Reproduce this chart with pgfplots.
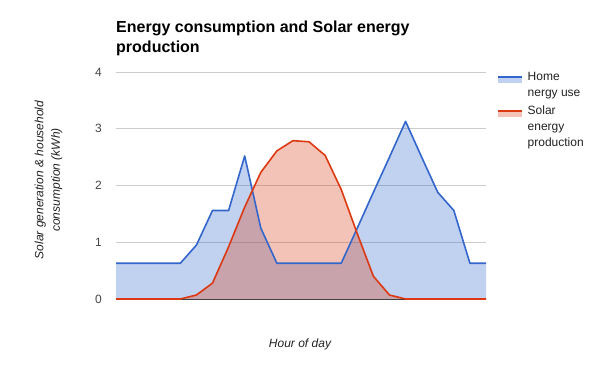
\documentclass[border=0pt]{standalone}
\usepackage{fontspec}
\setmainfont{Liberation Sans}
\usepackage{pgfplots}
\pgfplotsset{compat=1.18}
\definecolor{cblue}{HTML}{3366CC}
\definecolor{cred}{HTML}{DC3912}
\definecolor{ctxt}{HTML}{222222}
\definecolor{clab}{HTML}{444444}
\begin{document}
\begin{tikzpicture}
\useasboundingbox (0pt,0pt) rectangle (600pt,371pt);
\begin{axis}[at={(116pt,72pt)}, anchor=south west, scale only axis,
  width=370pt, height=227pt,
  xmin=0, xmax=23, ymin=0, ymax=4,
  ytick={1,2,3,4}, xtick=\empty,
  extra y ticks={0}, extra y tick style={grid style={color=black!75, line width=0.8pt}},
  axis line style={draw=none}, major tick length=0pt,
  ymajorgrids, grid style={color=black!20, line width=0.8pt},
  tick label style={font=\fontsize{12}{14}\selectfont, text=clab},
  yticklabel style={anchor=east, inner sep=0pt, xshift=-14pt},
  /pgf/number format/assume math mode=true,
  clip=false]
\addplot[draw=none, fill=cblue, fill opacity=0.3] coordinates {
(0,0.63)(1,0.63)(2,0.63)(3,0.63)(4,0.63)(5,0.95)(6,1.56)(7,1.56)(8,2.52)(9,1.25)(10,0.63)(11,0.63)
(12,0.63)(13,0.63)(14,0.63)(15,1.25)(16,1.88)(17,2.5)(18,3.13)(19,2.5)(20,1.88)(21,1.56)(22,0.63)(23,0.63)} \closedcycle;
\addplot[draw=none, fill=cred, fill opacity=0.3] coordinates {
(0,0)(1,0)(2,0)(3,0)(4,0)(5,0.07)(6,0.28)(7,0.92)(8,1.62)(9,2.23)(10,2.61)(11,2.79)
(12,2.77)(13,2.53)(14,1.93)(15,1.15)(16,0.40)(17,0.07)(18,0)(19,0)(20,0)(21,0)(22,0)(23,0)} \closedcycle;
\addplot[cblue, line width=1.6pt, line join=round] coordinates {
(0,0.63)(1,0.63)(2,0.63)(3,0.63)(4,0.63)(5,0.95)(6,1.56)(7,1.56)(8,2.52)(9,1.25)(10,0.63)(11,0.63)
(12,0.63)(13,0.63)(14,0.63)(15,1.25)(16,1.88)(17,2.5)(18,3.13)(19,2.5)(20,1.88)(21,1.56)(22,0.63)(23,0.63)};
\addplot[cred, line width=1.6pt, line join=round] coordinates {
(0,0)(1,0)(2,0)(3,0)(4,0)(5,0.07)(6,0.28)(7,0.92)(8,1.62)(9,2.23)(10,2.61)(11,2.79)
(12,2.77)(13,2.53)(14,1.93)(15,1.15)(16,0.40)(17,0.07)(18,0)(19,0)(20,0)(21,0)(22,0)(23,0)};
\end{axis}
\begin{scope}[x=1pt,y=1pt]
% title
\node[anchor=base west, inner sep=0pt, font=\fontsize{16}{18}\selectfont\bfseries] at (116,338) {Energy consumption and Solar energy};
\node[anchor=base west, inner sep=0pt, font=\fontsize{16}{18}\selectfont\bfseries] at (116,318) {production};
% axis titles
\node[rotate=90, align=center, inner sep=0pt, text=ctxt, font=\fontsize{12}{16.5}\selectfont\itshape] at (48.5,191) {Solar generation \& household\\consumption (kWh)};
\node[anchor=base, inner sep=0pt, text=ctxt, font=\fontsize{12}{14}\selectfont\itshape] at (300,23) {Hour of day};
% legend
\fill[cblue, opacity=0.3] (498,288) rectangle (522,293);
\draw[cblue, line width=1.8pt] (498,294.3) -- (522,294.3);
\fill[cred, opacity=0.3] (498,254) rectangle (522,259);
\draw[cred, line width=1.8pt] (498,260.3) -- (522,260.3);
\begin{scope}[every node/.style={anchor=base west, inner sep=0pt, text=ctxt, font=\fontsize{12}{14}\selectfont}]
\node at (527.5,290) {Home};
\node at (527.5,274) {nergy use};
\node at (527.5,256) {Solar};
\node at (527.5,240) {energy};
\node at (527.5,224) {production};
\end{scope}
\end{scope}
\end{tikzpicture}
\end{document}
